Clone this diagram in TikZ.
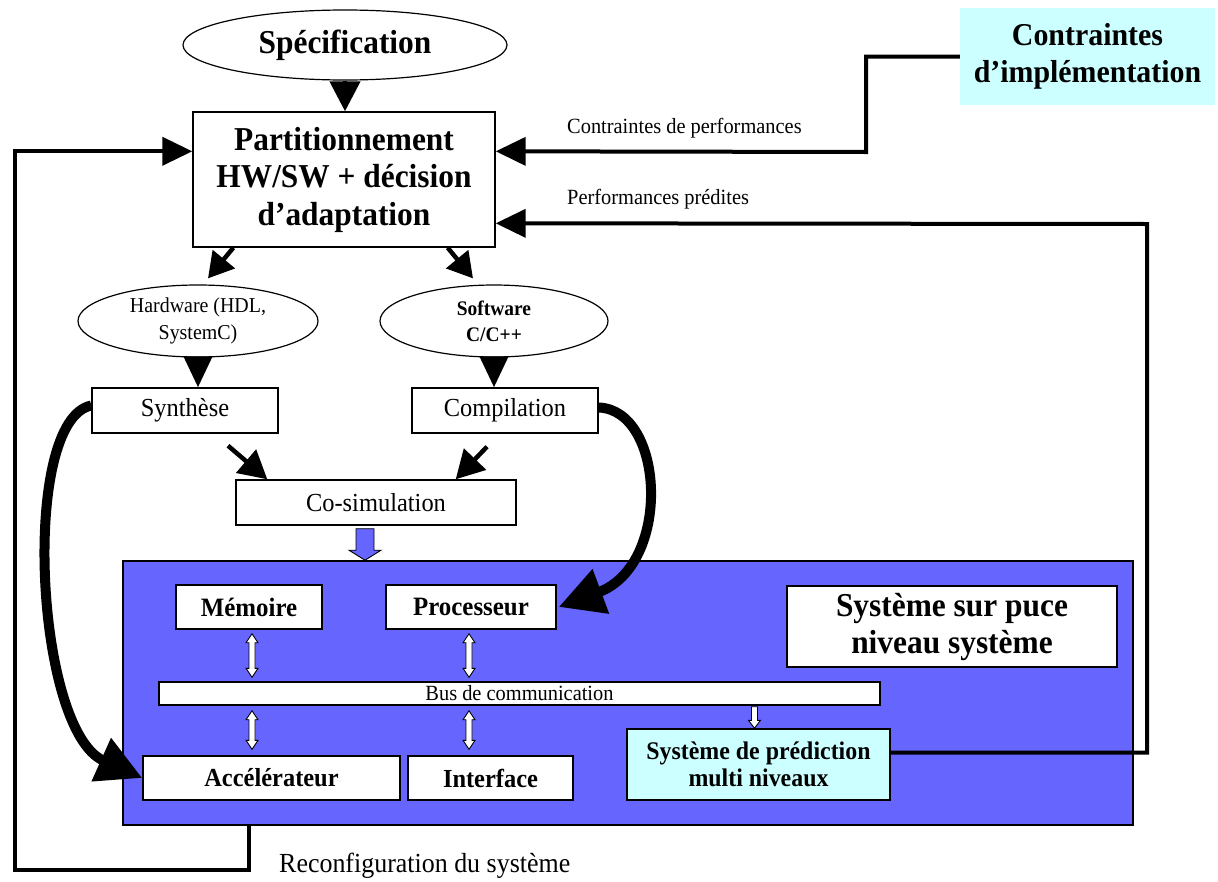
\documentclass[tikz,border=0pt]{standalone}
\usepackage{fontspec}
\setmainfont[FakeStretch=0.94]{Liberation Serif}
\usetikzlibrary{arrows.meta,calc,shapes.geometric}
\definecolor{socblue}{HTML}{6666FF}
\definecolor{palecyan}{HTML}{CCFFFF}

% font size shortcut: size and baseline skip in pt
\newcommand\fsz[2]{\fontsize{#1}{#2}\selectfont}

% vertical double-headed block arrow: top point, bottom point,
% half head width, half shaft width, head length
\newcommand\vdblarrow[5]{%
  \coordinate (dT) at #1; \coordinate (dB) at #2;
  \draw[blockarr, fill=white] (dT) -- ($(dT)+(#3,#5)$) -- ($(dT)+(#4,#5)$)
    -- ($(dB)+(#4,-#5)$) -- ($(dB)+(#3,-#5)$) -- (dB) -- ($(dB)+(-#3,-#5)$)
    -- ($(dB)+(-#4,-#5)$) -- ($(dT)+(-#4,#5)$) -- ($(dT)+(-#3,#5)$) -- cycle;}

% downward single block arrow: top point, tip point,
% half head width, half shaft width, head length, fill colour
\newcommand\vsinglearrow[6]{%
  \coordinate (sT) at #1; \coordinate (sB) at #2;
  \draw[blockarr, fill=#6] ($(sT)+(-#4,0)$) -- ($(sT)+(#4,0)$)
    -- ($(sB)+(#4,-#5)$) -- ($(sB)+(#3,-#5)$) -- (sB)
    -- ($(sB)+(-#3,-#5)$) -- ($(sB)+(-#4,-#5)$) -- cycle;}

\begin{document}
\begin{tikzpicture}[x=1pt,y=-1pt,
  box/.style={draw, line width=1.4pt, fill=white, inner sep=0pt, align=center},
  oval/.style={draw, ellipse, line width=1.2pt, fill=white, inner sep=0pt, align=center},
  blockarr/.style={draw, line width=0.9pt, line join=miter},
  flow/.style={line width=4.5pt, -{Triangle[length=30pt,width=30pt]}},
  fb/.style={line width=4pt, line join=miter, -{Triangle[length=30pt,width=28pt]}},
  bigcurve/.style={line width=10pt, -{Triangle[length=45pt,width=45pt]}},
  lbl/.style={inner sep=0pt, font=\fsz{21.7}{24}},
]
\useasboundingbox (0,0) rectangle (1218,881);
\fill[white] (0,0) rectangle (1218,881);

% ---- top of the flow ----
\node[oval, minimum width=324pt, minimum height=70pt, font=\fsz{33.4}{37}\bfseries]
  (spec) at (345,45) {Spécification};
\node[box, minimum width=302pt, minimum height=135pt, font=\fsz{33.4}{37.5}\bfseries]
  (part) at (344,179.5) {Partitionnement\\HW/SW + décision\\d’adaptation};
\node[fill=palecyan, inner sep=0pt, minimum width=255pt, minimum height=97pt,
  align=center, font=\fsz{31.8}{37}\bfseries]
  (contr) at (1087.5,56.5) {Contraintes\\d’implémentation};

\node[oval, minimum width=240pt, minimum height=72pt, font=\fsz{21.2}{27}]
  (hw) at (198,321) {Hardware (HDL,\\SystemC)};
\node[oval, minimum width=228pt, minimum height=72pt, font=\fsz{20.7}{26}\bfseries]
  (sw) at (494,321) {Software\\C/C++};

\node[box, minimum width=186pt, minimum height=45pt, font=\fsz{26}{28}]
  (synth) at (185,410.5) {Synthèse};
\node[box, minimum width=186pt, minimum height=45pt, font=\fsz{26}{28}]
  (comp) at (505,410.5) {Compilation};
\node[box, minimum width=280pt, minimum height=45pt, font=\fsz{26}{28}]
  (cosim) at (376,502.5) {Co-simulation};

% ---- system on chip ----
\node[draw, line width=1.6pt, fill=socblue, inner sep=0pt,
  minimum width=1010pt, minimum height=264pt] (soc) at (628,693) {};
\node[box, minimum width=146pt, minimum height=44pt, font=\fsz{26.5}{28}\bfseries]
  (mem) at (249,607) {Mémoire};
\node[box, minimum width=170pt, minimum height=44pt, font=\fsz{26.5}{28}\bfseries]
  (proc) at (471,607) {Processeur};
\node[box, minimum width=330pt, minimum height=81pt, font=\fsz{33.4}{37}\bfseries]
  (sysp) at (952,626.5) {Système sur puce\\niveau système};
\node[box, minimum width=721pt, minimum height=23pt, font=\fsz{21.7}{22}]
  (bus) at (519.5,693.5) {Bus de communication};
\node[box, fill=palecyan, minimum width=263pt, minimum height=71pt, font=\fsz{25.4}{27}\bfseries]
  (pred) at (758.5,764.5) {Système de prédiction\\multi niveaux};
\node[box, minimum width=257pt, minimum height=44pt, font=\fsz{26}{28}\bfseries]
  (accel) at (271.5,778) {Accélérateur};
\node[box, minimum width=165pt, minimum height=44pt, font=\fsz{26}{28}\bfseries]
  (intf) at (490.5,778) {Interface};

% ---- main flow arrows ----
\draw[flow] (spec.south) -- (spec.south |- part.north);
\draw[flow, -{Triangle[length=25pt,width=28pt]}]
  ($(part.south west)+(41,0)$) -- ($(hw.north)+(10,-6)$);
\draw[flow, -{Triangle[length=25pt,width=28pt]}]
  ($(part.south east)+(-48,0)$) -- ($(sw.north)+(-21,-6)$);
\draw[flow, -{Triangle[length=31pt,width=28pt]}] (hw.south) -- (hw.south |- synth.north);
\draw[flow, -{Triangle[length=31pt,width=28pt]}] (sw.south) -- (sw.south |- comp.north);
\draw[flow, -{Triangle[length=28pt,width=30pt]}]
  ($(synth.south)+(43,12)$) -- ($(cosim.north west)+(32,0)$);
\draw[flow, -{Triangle[length=28pt,width=30pt]}]
  ($(comp.south)+(-18,13)$) -- ($(cosim.north east)+(-61,0)$);

% co-simulation feeds the system model
\vsinglearrow{($(cosim.south)+(-11,3)$)}{($(cosim.south |- soc.north)+(-11,0)$)}{16}{9}{10}{socblue}

% bus links
\vdblarrow{($(mem.south)+(3,4)$)}{($(mem.south |- bus.north)+(3,-4)$)}{6}{3}{9}
\vdblarrow{($(proc.south)+(-2,4)$)}{($(proc.south |- bus.north)+(-2,-4)$)}{6}{3}{9}
\vdblarrow{($(mem.south |- bus.south)+(3,5)$)}{($(mem.south |- accel.north)+(3,-6)$)}{6}{3}{9}
\vdblarrow{($(proc.south |- bus.south)+(-2,5)$)}{($(proc.south |- intf.north)+(-2,-6)$)}{6}{3}{9}
\vsinglearrow{($(pred.north |- bus.south)+(-4,1)$)}{($(pred.north)+(-4,0)$)}{6}{3}{8}{white}

% direct mapping of synthesised and compiled parts
\draw[bigcurve] ($(synth.west)+(0,-5)$) .. controls (20,420) and (35,730) .. (accel.west);
\draw[bigcurve] ($(comp.east)+(0,-3)$) .. controls (665,410) and (672,565) .. ($(proc.east)+(2,0)$);

% ---- feedback loops ----
\coordinate (cpin) at ($(part.north east)+(0,40)$);
\coordinate (ppin) at ($(part.north east)+(0,112)$);
\coordinate (rpin) at ($(part.north west)+(0,40)$);
\coordinate (rcout) at ($(soc.south west)+(127,0)$);

\draw[fb] (contr.west) -| (866,152) -- (cpin);
\draw[fb] ($(pred.east)+(0,-12)$) -| (1147,224) -- (ppin);
\draw[fb] (rcout) |- (15,870) |- (rpin);

\node[lbl, anchor=west] (lcp) at (567,128) {Contraintes de performances};
\node[lbl, anchor=west] (lpp) at (567,199) {Performances prédites};
\node[lbl, anchor=west, font=\fsz{27.6}{30}] (lrc) at (279,866) {Reconfiguration du système};
\end{tikzpicture}
\end{document}
